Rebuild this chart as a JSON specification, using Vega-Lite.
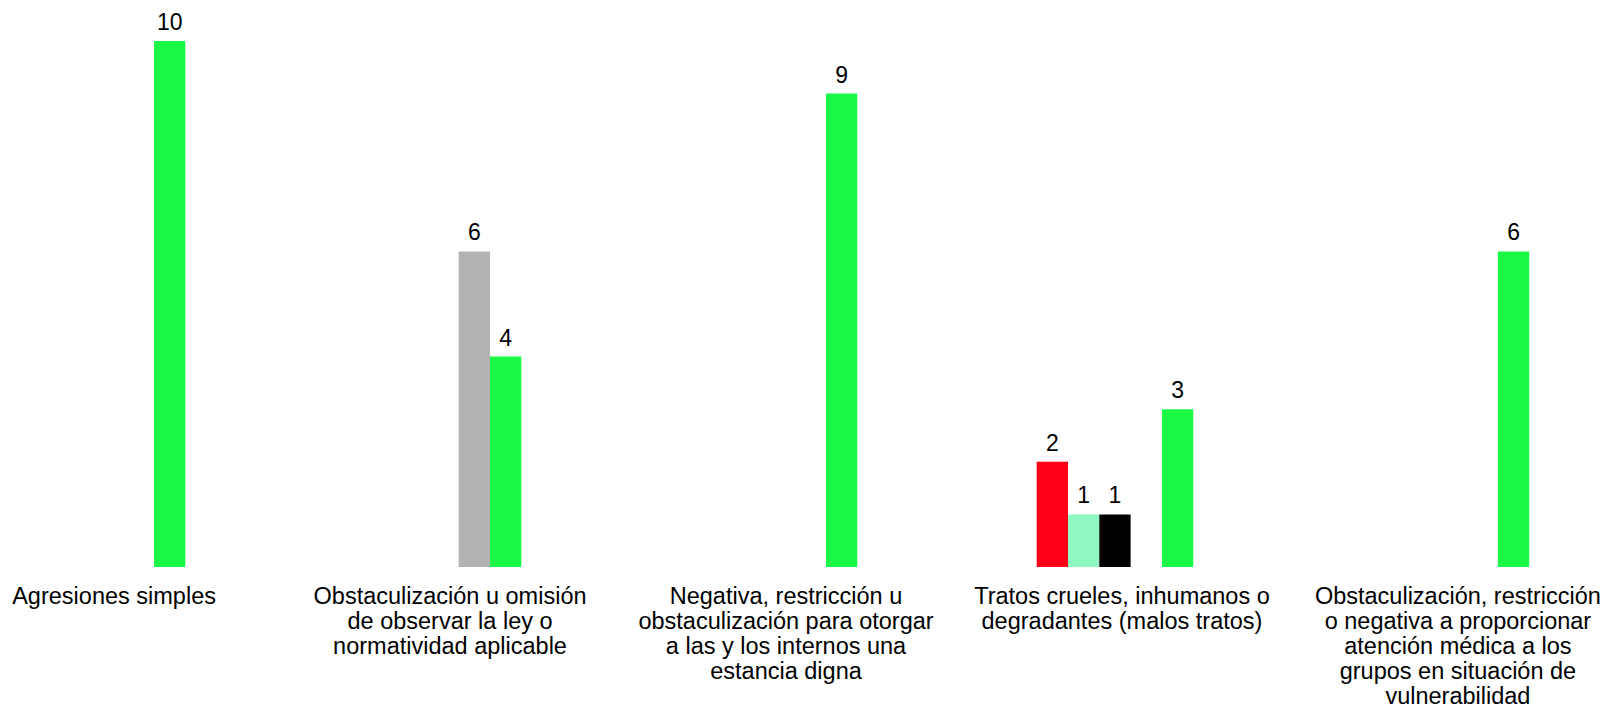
{
  "$schema": "https://vega.github.io/schema/vega-lite/v6.json",
  "autosize": {"type": "none"},
  "padding": {"left": 0, "top": 41, "right": 49, "bottom": 139},
  "width": 1558,
  "height": 526,
  "background": "white",
  "config": {"view": {"stroke": null}, "font": "Liberation Sans"},
  "data": {
    "values": [
      {"categoria": "Agresiones simples", "serie": "Serie 5", "valor": 10},
      {"categoria": "Obstaculización u omisión de observar la ley o normatividad aplicable", "serie": "Serie 4", "valor": 6},
      {"categoria": "Obstaculización u omisión de observar la ley o normatividad aplicable", "serie": "Serie 5", "valor": 4},
      {"categoria": "Negativa, restricción u obstaculización para otorgar a las y los internos una estancia digna", "serie": "Serie 5", "valor": 9},
      {"categoria": "Tratos crueles, inhumanos o degradantes (malos tratos)", "serie": "Serie 1", "valor": 2},
      {"categoria": "Tratos crueles, inhumanos o degradantes (malos tratos)", "serie": "Serie 2", "valor": 1},
      {"categoria": "Tratos crueles, inhumanos o degradantes (malos tratos)", "serie": "Serie 3", "valor": 1},
      {"categoria": "Tratos crueles, inhumanos o degradantes (malos tratos)", "serie": "Serie 5", "valor": 3},
      {"categoria": "Obstaculización, restricción o negativa a proporcionar atención médica a los grupos en situación de vulnerabilidad", "serie": "Serie 5", "valor": 6}
    ]
  },
  "encoding": {
    "x": {
      "field": "categoria",
      "type": "nominal",
      "sort": null,
      "scale": {"paddingInner": 0.534, "paddingOuter": 0.0857},
      "axis": {
        "title": null,
        "domain": false,
        "ticks": false,
        "labelAngle": 0,
        "labelFont": "Liberation Sans",
        "labelFontSize": 23.5,
        "labelColor": "#000000",
        "labelPadding": 17,
        "labelOffset": 7,
        "labelLineHeight": 25,
        "labelLimit": 400,
        "labelBaseline": "top",
        "labelExpr": "datum.value == 'Agresiones simples' ? 'Agresiones simples' : datum.value == 'Obstaculización u omisión de observar la ley o normatividad aplicable' ? ['Obstaculización u omisión', 'de observar la ley o', 'normatividad aplicable'] : datum.value == 'Negativa, restricción u obstaculización para otorgar a las y los internos una estancia digna' ? ['Negativa, restricción u', 'obstaculización para otorgar', 'a las y los internos una', 'estancia digna'] : datum.value == 'Tratos crueles, inhumanos o degradantes (malos tratos)' ? ['Tratos crueles, inhumanos o', 'degradantes (malos tratos)'] : ['Obstaculización, restricción', 'o negativa a proporcionar', 'atención médica a los', 'grupos en situación de', 'vulnerabilidad']"
      }
    },
    "xOffset": {
      "field": "serie",
      "type": "nominal",
      "scale": {"domain": ["Serie 1", "Serie 2", "Serie 3", "Serie 4", "Serie 5"], "paddingInner": 0, "paddingOuter": 0}
    },
    "y": {
      "field": "valor",
      "type": "quantitative",
      "scale": {"domain": [0, 10], "nice": false},
      "axis": null
    }
  },
  "layer": [
    {
      "mark": {"type": "bar"},
      "encoding": {
        "color": {
          "field": "serie",
          "type": "nominal",
          "scale": {"domain": ["Serie 1", "Serie 2", "Serie 3", "Serie 4", "Serie 5"], "range": ["#FF0019", "#8FF7C2", "#000000", "#B3B3B3", "#1AF946"]},
          "legend": null
        }
      }
    },
    {
      "mark": {"type": "text", "baseline": "alphabetic", "dy": -11, "fontSize": 23, "font": "Liberation Sans", "color": "#000000"},
      "encoding": {"text": {"field": "valor", "type": "quantitative"}}
    }
  ]
}
